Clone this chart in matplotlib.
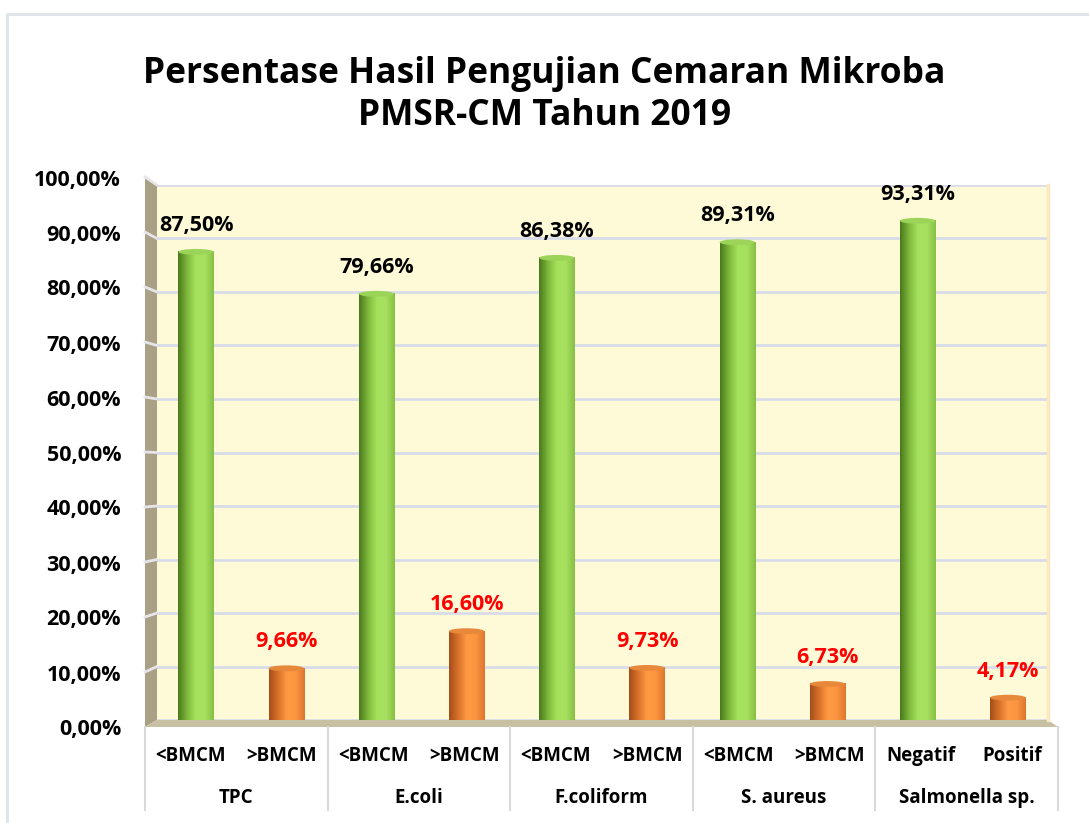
import numpy as np
import matplotlib
matplotlib.use("Agg")
import matplotlib.pyplot as plt
from matplotlib.patches import Polygon, Ellipse
from matplotlib.colors import LinearSegmentedColormap

plt.rcParams['font.family'] = ['Open Sans', 'DejaVu Sans']

# data
groups = ['TPC', 'E.coli', 'F.coliform', 'S. aureus', 'Salmonella sp.']
sub_labels = ['<BMCM', '>BMCM', '<BMCM', '>BMCM', '<BMCM', '>BMCM',
              '<BMCM', '>BMCM', 'Negatif', 'Positif']
values = [87.50, 9.66, 79.66, 16.60, 86.38, 9.73, 89.31, 6.73, 93.31, 4.17]
value_labels = ['87,50%', '9,66%', '79,66%', '16,60%', '86,38%', '9,73%',
                '89,31%', '6,73%', '93,31%', '4,17%']
yticks = [0, 10, 20, 30, 40, 50, 60, 70, 80, 90, 100]
ytick_labels = ['%d,00%%' % t for t in yticks]
title = 'Persentase Hasil Pengujian Cemaran Mikroba\nPMSR-CM Tahun 2019'

W, H = 1089, 823
fig = plt.figure(figsize=(W / 100, H / 100), dpi=100)

# overlay axes in pixel coordinates for the 3d frame (walls, floor, table)
bg = fig.add_axes([0, 0, 1, 1], zorder=0)
bg.axis('off')
bg.set_autoscale_on(False)
bg.set_xlim(0, W)
bg.set_ylim(H, 0)

# chart border
bg.plot([7, 7, W + 5], [H + 5, 14, 14], color='#dfe2e8', lw=2)

# back wall pixel geometry
wl, wr, wt, wb = 157, 1048, 185, 720
px_per_pct = (wb - wt) / 100.0

ax = fig.add_axes([wl / W, 1 - wb / H, (wr - wl) / W, (wb - wt) / H], zorder=1)
ax.set_facecolor('#fefad8')
x0, dx = 196, 90.2
ax.set_yticks(yticks)
ax.set_xticks([])
ax.tick_params(axis='y', length=0, labelleft=False)
ax.grid(axis='y', color='#d9dce8', lw=2)
ax.set_axisbelow(True)
for s in ['left', 'bottom', 'top']:
    ax.spines[s].set_visible(False)
ax.spines['right'].set_color('#fbe8bf')
ax.spines['right'].set_linewidth(2.5)

# side wall
bg.add_patch(Polygon([(145, 177), (wl, wt), (wl, wb), (145, 727)],
                     closed=True, facecolor='#aaa086', edgecolor='none'))
for t, lab in zip(yticks, ytick_labels):
    yb = wb - t * px_per_pct
    yl = yb - 8 + 15 * (1 - t / 100.0)
    if t > 0:
        bg.plot([145, wl], [yl, yb], color='#e6e6ea', lw=2)
    bg.text(121, yl + 3, lab, ha='right', va='center', fontsize=15.5,
            fontweight='bold', color='black')

# floor
bg.add_patch(Polygon([(wl, wb), (wr, wb), (1058, 727), (145, 727)],
                     closed=True, facecolor='#c8c0a3', edgecolor='none'))

# category table
gx = np.linspace(145, 1058, len(groups) + 1)
for xv in gx:
    bg.plot([xv, xv], [727, 810], color='#d9d9d9', lw=1.5)
slot = (gx[1] - gx[0]) / 2
for i, lab in enumerate(sub_labels):
    bg.text(145 + slot * (i + 0.5), 756, lab, ha='center', va='center',
            fontsize=13.5, fontweight='bold')
for i, g in enumerate(groups):
    bg.text((gx[i] + gx[i + 1]) / 2, 798, g, ha='center', va='center',
            fontsize=13.5, fontweight='bold')

# cylinder bars
green = LinearSegmentedColormap.from_list('g', ['#4a7a1c', '#7fb83c', '#a6e25c', '#a8e060', '#86c044'])
orange = LinearSegmentedColormap.from_list('o', ['#a4501a', '#d8702a', '#ff9a44', '#fc9540', '#de7630'])
grad = np.linspace(0, 1, 64).reshape(1, -1)
bw = 0.39
eh = 1.1
for i, v in enumerate(values):
    cm = green if i % 2 == 0 else orange
    top = '#9cd45a' if i % 2 == 0 else '#e8883a'
    ax.imshow(grad, cmap=cm, aspect='auto', extent=[i - bw / 2, i + bw / 2, 0, v],
              zorder=3, interpolation='bilinear')
    ax.add_patch(Ellipse((i, v), bw, eh, facecolor=top, edgecolor='none', zorder=4))
    col = 'black' if i % 2 == 0 else '#ff0000'
    ax.text(i, v + 3.0, value_labels[i], ha='center', va='bottom', fontsize=15.5,
            fontweight='bold', color=col, zorder=5)
ax.set_xlim((wl - x0) / dx, (wr - x0) / dx)
ax.set_ylim(0, 100)

fig.text(0.5, 1 - 95 / H, title, ha='center', va='center', fontsize=25.5,
         fontweight='bold', linespacing=1.22)

fig.savefig('out.png', dpi=100)
